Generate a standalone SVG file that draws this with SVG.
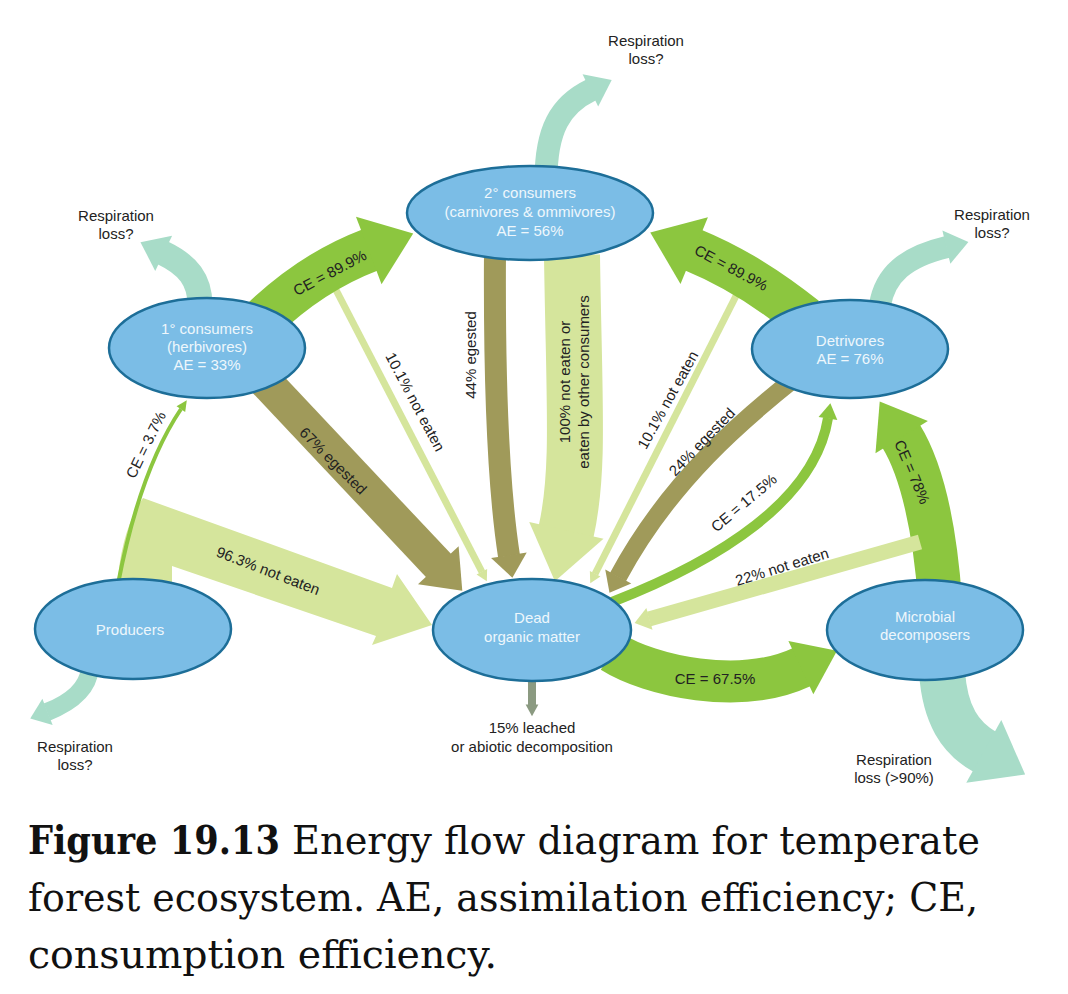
<svg xmlns="http://www.w3.org/2000/svg" width="1068" height="994" viewBox="0 0 1068 994">
<defs>
<style>
.node ellipse{fill:#7bbde6;stroke:#1d6e98;stroke-width:2.5}
.node text{font-family:"Liberation Sans",Arial,sans-serif;font-size:15px;fill:#eef7fc;text-anchor:middle}
.lbl{font-family:"Liberation Sans",Arial,sans-serif;font-size:15px;fill:#222;text-anchor:middle}
.b{fill:none;stroke-linecap:butt}
.g{stroke:#8cc63f}.o{stroke:#a09a5a}.l{stroke:#d5e59c}.t{stroke:#a8dcc8}.k{stroke:#8b9a81}
.cap{font-family:"DejaVu Serif","Liberation Serif",serif;font-size:40px;fill:#111}
marker{overflow:visible}
</style>
<marker id="mG" markerUnits="strokeWidth" orient="auto" refX="0" refY="0" markerWidth="2" markerHeight="2"><path d="M-0.03,-0.82 L1.05,0 L-0.03,0.82 Z" fill="#8cc63f"/></marker>
<marker id="mG2" markerUnits="strokeWidth" orient="auto" refX="0" refY="0" markerWidth="2" markerHeight="2"><path d="M-0.03,-0.7 L0.92,0 L-0.03,0.7 Z" fill="#8cc63f"/></marker>
<marker id="mGs" markerUnits="strokeWidth" orient="auto" refX="0" refY="0" markerWidth="3" markerHeight="3"><path d="M-0.05,-1.3 L2.6,0 L-0.05,1.3 Z" fill="#8cc63f"/></marker>
<marker id="mGm" markerUnits="strokeWidth" orient="auto" refX="0" refY="0" markerWidth="2" markerHeight="2"><path d="M-0.05,-0.95 L1.5,0 L-0.05,0.95 Z" fill="#8cc63f"/></marker>
<marker id="mO" markerUnits="strokeWidth" orient="auto" refX="0" refY="0" markerWidth="2" markerHeight="2"><path d="M-0.03,-0.82 L1,0 L-0.03,0.82 Z" fill="#a09a5a"/></marker>
<marker id="mL" markerUnits="strokeWidth" orient="auto" refX="0" refY="0" markerWidth="2" markerHeight="2"><path d="M-0.03,-0.68 L0.9,0 L-0.03,0.68 Z" fill="#d5e59c"/></marker>
<marker id="mL2" markerUnits="strokeWidth" orient="auto" refX="0" refY="0" markerWidth="2" markerHeight="2"><path d="M-0.03,-0.75 L1,0 L-0.03,0.75 Z" fill="#d5e59c"/></marker>
<marker id="mLs" markerUnits="strokeWidth" orient="auto" refX="0" refY="0" markerWidth="2" markerHeight="2"><path d="M-0.05,-0.85 L1.5,0 L-0.05,0.85 Z" fill="#d5e59c"/></marker>
<marker id="mT" markerUnits="strokeWidth" orient="auto" refX="0" refY="0" markerWidth="2" markerHeight="2"><path d="M-0.03,-0.78 L1,0 L-0.03,0.78 Z" fill="#a8dcc8"/></marker>
<marker id="mK" markerUnits="strokeWidth" orient="auto" refX="0" refY="0" markerWidth="2" markerHeight="2"><path d="M-0.05,-0.8 L1.4,0 L-0.05,0.8 Z" fill="#8b9a81"/></marker>
</defs>
<rect width="1068" height="994" fill="#ffffff"/>

<g id="connectors">
  <path id="c-producers-dom" d="M117,595 L117,588 Q121,530 143,498 L392,588 L397,574 L432,625 L372,645 L376,636 L172,566 L172,595 Z" fill="#d5e59c"/>
  <path id="c-producers-1c" class="b g" stroke-width="4" d="M118,584 Q140,470 181,409" marker-end="url(#mGs)"/>
  <path id="c-1c-dom-egest" class="b o" stroke-width="34" d="M262,378 L439,566" marker-end="url(#mO)"/>
  <path id="c-1c-dom-noteaten" class="b l" stroke-width="7" d="M335,288 L482,572" marker-end="url(#mLs)"/>
  <path id="c-1c-2c" class="b g" stroke-width="44" d="M262,320 Q312,272 370,250" marker-end="url(#mG)"/>
  <path id="c-2c-dom-egest" class="b o" stroke-width="22" d="M495,250 C494,400 500,498 509,556" marker-end="url(#mO)"/>
  <path id="c-2c-dom-noteaten" class="b l" stroke-width="56" d="M572,255 C574,400 580,470 566,532" marker-end="url(#mL)"/>
  <path id="c-det-dom-noteaten" class="b l" stroke-width="7" d="M738,292 L595,574" marker-end="url(#mLs)"/>
  <path id="c-det-dom-egest" class="b o" stroke-width="18" d="M795,378 C745,418 670,480 618,577" marker-end="url(#mO)"/>
  <path id="c-det-2c" class="b g" stroke-width="44" d="M805,318 Q749,273 693,250" marker-end="url(#mG)"/>
  <path id="c-dom-det" class="b g" stroke-width="10" d="M612,602 C720,560 815,500 828,418" marker-end="url(#mGm)"/>
  <path id="c-mic-det" class="b g" stroke-width="44" d="M940,600 C935,530 922,470 901,436" marker-end="url(#mG2)"/>
  <path id="c-mic-dom" class="b l" stroke-width="15" d="M920,542 L649,619" marker-end="url(#mL2)"/>
  <path id="c-dom-mic" class="b g" stroke-width="42" d="M612,652 C650,676 740,696 802,667" marker-end="url(#mG2)"/>
  <path id="c-resp-1c" class="b t" stroke-width="25" d="M200,305 C200,280 188,265 163,253" marker-end="url(#mT)"/>
  <path id="c-resp-2c" class="b t" stroke-width="23" d="M546,180 C546,130 560,105 591,90" marker-end="url(#mT)"/>
  <path id="c-resp-det" class="b t" stroke-width="22" d="M880,305 C885,275 905,257 947,247" marker-end="url(#mT)"/>
  <path id="c-resp-prod" class="b t" stroke-width="18" d="M90,668 C88,690 70,703 47,712" marker-end="url(#mT)"/>
  <path id="c-resp-mic" class="b t" stroke-width="46" d="M942,672 C945,715 960,738 985,752" marker-end="url(#mT)"/>
  <path id="c-dom-leach" class="b k" stroke-width="8" d="M532,676 L532,705" marker-end="url(#mK)"/>
</g>

<g id="labels">
  <text class="lbl" transform="translate(330,273) rotate(-28)" y="5">CE = 89.9%</text>
  <text class="lbl" transform="translate(731,268) rotate(28)" y="5">CE = 89.9%</text>
  <text class="lbl" transform="translate(146,445) rotate(-64)" y="5">CE = 3.7%</text>
  <text class="lbl" transform="translate(268,571) rotate(21)" y="5">96.3% not eaten</text>
  <text class="lbl" transform="translate(333,461) rotate(45)" y="5">67% egested</text>
  <text class="lbl" transform="translate(415,402) rotate(62)" y="5">10.1% not eaten</text>
  <text class="lbl" transform="translate(471,355) rotate(-90)" y="5">44% egested</text>
  <text class="lbl" transform="translate(577,382) rotate(-90)"><tspan x="0" y="-7">100% not eaten or</tspan><tspan x="0" y="12">eaten by other consumers</tspan></text>
  <text class="lbl" transform="translate(668,400) rotate(-61)" y="5">10.1% not eaten</text>
  <text class="lbl" transform="translate(702,442) rotate(-46)" y="5">24% egested</text>
  <text class="lbl" transform="translate(744,503) rotate(-40)" y="5">CE = 17.5%</text>
  <text class="lbl" transform="translate(912,472) rotate(67)" y="5">CE = 78%</text>
  <text class="lbl" transform="translate(782,567) rotate(-17)" y="5">22% not eaten</text>
  <text class="lbl" transform="translate(715,679)" y="5">CE = 67.5%</text>
  <text class="lbl" x="646" y="46">Respiration</text>
  <text class="lbl" x="646" y="64">loss?</text>
  <text class="lbl" x="116" y="221">Respiration</text>
  <text class="lbl" x="116" y="239">loss?</text>
  <text class="lbl" x="992" y="220">Respiration</text>
  <text class="lbl" x="992" y="238">loss?</text>
  <text class="lbl" x="75" y="752">Respiration</text>
  <text class="lbl" x="75" y="770">loss?</text>
  <text class="lbl" x="532" y="733">15% leached</text>
  <text class="lbl" x="532" y="752">or abiotic decomposition</text>
  <text class="lbl" x="894" y="765">Respiration</text>
  <text class="lbl" x="894" y="783">loss (&gt;90%)</text>
</g>

<g id="node-primary" class="node">
  <ellipse cx="207" cy="348" rx="98" ry="50"/>
  <text x="207" y="334">1° consumers</text>
  <text x="207" y="352">(herbivores)</text>
  <text x="207" y="370">AE = 33%</text>
</g>
<g id="node-secondary" class="node">
  <ellipse cx="530" cy="213" rx="123" ry="47"/>
  <text x="530" y="198">2° consumers</text>
  <text x="530" y="217">(carnivores &amp; ommivores)</text>
  <text x="530" y="236">AE = 56%</text>
</g>
<g id="node-detrivores" class="node">
  <ellipse cx="850" cy="349" rx="98" ry="49"/>
  <text x="850" y="346">Detrivores</text>
  <text x="850" y="364">AE = 76%</text>
</g>
<g id="node-producers" class="node">
  <ellipse cx="133" cy="629" rx="98" ry="50"/>
  <text x="130" y="635">Producers</text>
</g>
<g id="node-dom" class="node">
  <ellipse cx="532" cy="630" rx="99" ry="51"/>
  <text x="532" y="623">Dead</text>
  <text x="532" y="642">organic matter</text>
</g>
<g id="node-microbial" class="node">
  <ellipse cx="925" cy="630" rx="98" ry="50"/>
  <text x="925" y="622">Microbial</text>
  <text x="925" y="640">decomposers</text>
</g>

<g id="caption">
  <text class="cap" x="28" y="854" font-weight="bold" textLength="252" lengthAdjust="spacingAndGlyphs">Figure 19.13</text>
  <text class="cap" x="292" y="854" textLength="688" lengthAdjust="spacingAndGlyphs">Energy flow diagram for temperate</text>
  <text class="cap" x="28" y="911" textLength="950" lengthAdjust="spacingAndGlyphs">forest ecosystem. AE, assimilation efficiency; CE,</text>
  <text class="cap" x="28" y="968" textLength="469" lengthAdjust="spacingAndGlyphs">consumption efficiency.</text>
</g>
</svg>
